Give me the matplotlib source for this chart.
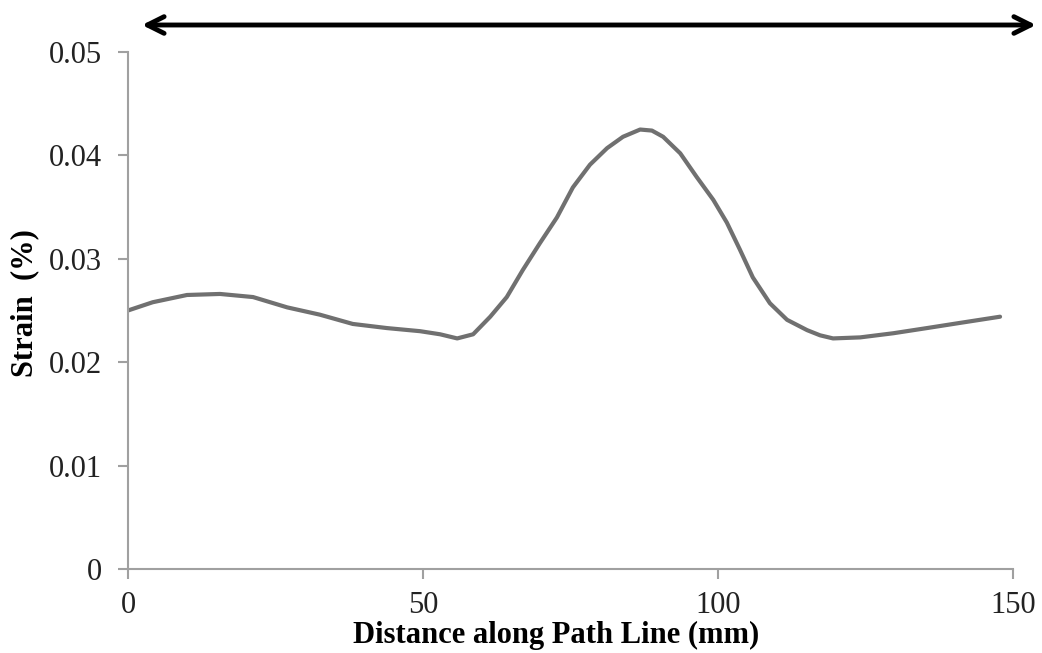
import matplotlib.pyplot as plt
import matplotlib

matplotlib.rcParams['font.family'] = ['Liberation Serif', 'DejaVu Serif']

# values
distance = [0, 4.2, 10.0, 15.6, 21.2, 27.0, 32.5, 38.1, 43.9, 49.5, 52.9, 55.8, 58.5,
            61.4, 64.2, 66.9, 69.8, 72.7, 75.4, 78.3, 81.2, 83.9, 86.8, 88.8, 90.7,
            93.6, 96.4, 99.2, 101.5, 103.7, 105.9, 108.8, 111.7, 115.1, 117.3, 119.5,
            124.1, 129.7, 135.4, 141.0, 147.8]
strain = [0.0250, 0.0258, 0.0265, 0.0266, 0.0263, 0.0253, 0.0246, 0.0237, 0.0233,
          0.0230, 0.0227, 0.0223, 0.0227, 0.0244, 0.0263, 0.0289, 0.0315, 0.0340,
          0.0369, 0.0391, 0.0407, 0.0418, 0.0425, 0.0424, 0.0418, 0.0402, 0.0379,
          0.0357, 0.0335, 0.0309, 0.0282, 0.0257, 0.0241, 0.0231, 0.0226, 0.0223,
          0.0224, 0.0228, 0.0233, 0.0238, 0.0244]

x_ticks = [0, 50, 100, 150]
y_ticks = [0, 0.01, 0.02, 0.03, 0.04, 0.05]
y_tick_labels = ['0', '0.01', '0.02', '0.03', '0.04', '0.05']

fig = plt.figure(figsize=(10.42, 6.53), dpi=100)
ax = fig.add_axes([0.1228, 0.1286, 0.8494, 0.7918])

ax.plot(distance, strain, color='#707070', linewidth=3.0, solid_capstyle='round',
        solid_joinstyle='round')

ax.set_xlim(0, 150)
ax.set_ylim(0, 0.05)
ax.set_xticks(x_ticks)
ax.set_yticks(y_ticks)
ax.set_yticklabels(y_tick_labels)

for side in ['top', 'right']:
    ax.spines[side].set_visible(False)
for side in ['left', 'bottom']:
    ax.spines[side].set_color('#a0a0a0')
    ax.spines[side].set_linewidth(1.5)

ax.tick_params(axis='both', direction='out', length=7, width=1.5, color='#a0a0a0',
               labelsize=22, labelcolor='#222222')
ax.tick_params(axis='y', pad=12)
ax.tick_params(axis='x', pad=9)

ax.set_xlabel('Distance along Path Line (mm)', fontsize=22, fontweight='bold')
ax.xaxis.set_label_coords(0.4836, -0.1)
ax.set_ylabel('Strain  (%)', fontsize=22, fontweight='bold')
ax.yaxis.set_label_coords(-0.1, 0.514)

# double-headed arrow above the plot
ax.annotate('', xy=(1036 / 1042, 1 - 25 / 653), xytext=(142 / 1042, 1 - 25 / 653),
            xycoords='figure fraction', textcoords='figure fraction',
            arrowprops=dict(arrowstyle='<->', color='black', lw=3.5,
                            mutation_scale=30, shrinkA=0, shrinkB=0))

plt.savefig('out.png', dpi=100)
